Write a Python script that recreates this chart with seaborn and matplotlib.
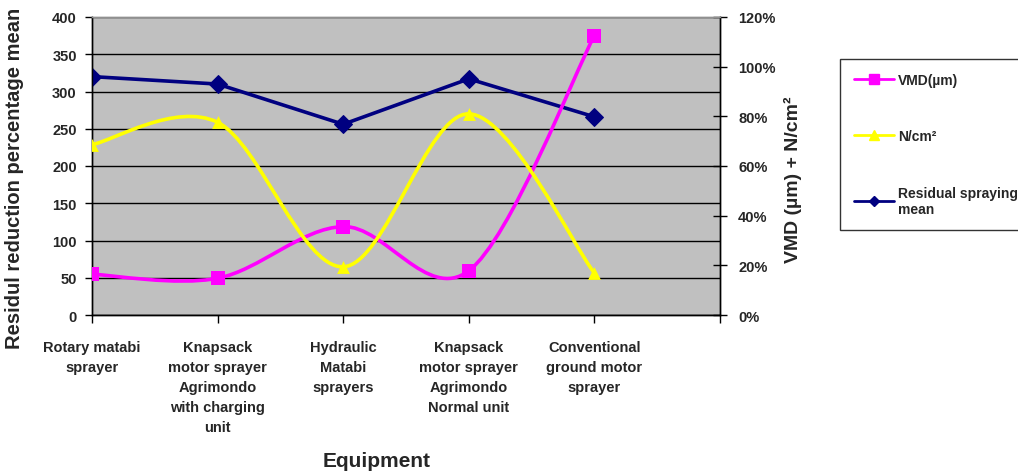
import matplotlib
matplotlib.use("Agg")
import matplotlib.pyplot as plt
import seaborn as sns
import numpy as np
import pandas as pd
from matplotlib.path import Path
from matplotlib.patches import PathPatch
from matplotlib.lines import Line2D
from matplotlib.ticker import FuncFormatter, MultipleLocator

categories = [
    "Rotary matabi\nsprayer",
    "Knapsack\nmotor sprayer\nAgrimondo\nwith charging\nunit",
    "Hydraulic\nMatabi\nsprayers",
    "Knapsack\nmotor sprayer\nAgrimondo\nNormal unit",
    "Conventional\nground motor\nsprayer",
]
residual_mean = [320, 310, 256, 317, 266]          # left axis
vmd = [0.164, 0.148, 0.356, 0.178, 1.125]          # right axis (fraction)
n_cm2 = [0.686, 0.776, 0.194, 0.81, 0.169]         # right axis (fraction)

sns.set_style("white")
plt.rcParams['font.family'] = ['Liberation Sans', 'DejaVu Sans']

W, H = 1018, 477
fig = plt.figure(figsize=(W / 100, H / 100), dpi=100)
L, R, T, B = 92, 720, 18, 316
ax = fig.add_axes([L / W, 1 - B / H, (R - L) / W, (B - T) / H])
ax2 = ax.twinx()

ax.set_facecolor("#C0C0C0")
ax.set_zorder(1)
ax2.set_zorder(2)
ax2.patch.set_visible(False)

x = np.arange(len(categories))
df = pd.DataFrame({"x": x, "res": residual_mean, "vmd": vmd, "n": n_cm2})

# grid
ax.set_ylim(0, 400)
ax.yaxis.set_major_locator(MultipleLocator(50))
ax.grid(axis="y", color="black", linewidth=1.0)
ax.set_axisbelow(True)
ax.set_xlim(0, 5)
ax.set_xticks(np.arange(0, 6))
ax.set_xticklabels(categories + [""])

# residual line (straight)
sns.lineplot(data=df, x="x", y="res", ax=ax, color="#000080", linewidth=2.6,
             marker="D", markersize=9, markeredgecolor="#000080", zorder=3)


def smooth_path(xs, ys):
    pts = np.column_stack([xs, ys]).astype(float)
    n = len(pts)
    verts = [pts[0]]
    codes = [Path.MOVETO]
    for i in range(n - 1):
        p0 = pts[i - 1] if i > 0 else pts[i]
        p1 = pts[i]
        p2 = pts[i + 1]
        p3 = pts[i + 2] if i + 2 < n else pts[i + 1]
        c1 = p1 + (p2 - p0) / 6.0
        c2 = p2 - (p3 - p1) / 6.0
        verts += [c1, c2, p2]
        codes += [Path.CURVE4] * 3
    return Path(verts, codes)


ax2.set_ylim(0, 1.2)
ax2.yaxis.set_major_locator(MultipleLocator(0.2))
ax2.yaxis.set_major_formatter(FuncFormatter(lambda v, p: f"{v*100:.0f}%"))

ax2.add_patch(PathPatch(smooth_path(x, vmd), fill=False, edgecolor="#FF00FF",
                        linewidth=2.6, zorder=3))
sns.scatterplot(data=df, x="x", y="vmd", ax=ax2, color="#FF00FF", marker="s",
                s=95, edgecolor="#FF00FF", linewidth=0, zorder=4)
ax2.add_patch(PathPatch(smooth_path(x, n_cm2), fill=False, edgecolor="#FFFF00",
                        linewidth=2.6, zorder=3))
sns.scatterplot(data=df, x="x", y="n", ax=ax2, color="#FFFF00", marker="^",
                s=85, edgecolor="#FFFF00", linewidth=0, zorder=4)
ax2.set_xlim(0, 5)

# spines
for a in (ax, ax2):
    for s in ("left", "right", "bottom"):
        a.spines[s].set_color("black")
        a.spines[s].set_linewidth(1.0)
    a.spines["top"].set_color("#909090")
    a.spines["top"].set_linewidth(1.0)

ax.set_xlabel("")
ax.set_ylabel("")
ax2.set_xlabel("")
ax2.set_ylabel("")

ax.tick_params(axis="y", direction="out", length=5, width=1, color="black",
               labelsize=10.5, pad=6, left=True)
ax.tick_params(axis="x", direction="out", length=6, width=1, color="black",
               pad=12, bottom=True)
ax2.tick_params(axis="y", direction="inout", length=10, width=1, color="black",
                labelsize=10.5, pad=8, right=True)
for lab in ax.get_yticklabels() + ax2.get_yticklabels():
    lab.set_fontweight("bold")
for lab in ax.get_xticklabels():
    lab.set_fontweight("bold")
    lab.set_fontsize(10.5)
    lab.set_linespacing(1.55)
    lab.set_verticalalignment("top")

fig.text(15 / W, 1 - 178 / H, "Residul reduction percentage mean", rotation=90,
         ha="center", va="center", fontsize=14.5, fontweight="bold")
fig.text(793 / W, 1 - 180 / H, "VMD (µm) + N/cm²", rotation=90,
         ha="center", va="center", fontsize=14, fontweight="bold")
fig.text(377 / W, 1 - 462 / H, "Equipment", ha="center", va="center",
         fontsize=15, fontweight="bold")

handles = [
    Line2D([], [], color="#FF00FF", linewidth=2, marker="s", markersize=7),
    Line2D([], [], color="#FFFF00", linewidth=2, marker="^", markersize=7),
    Line2D([], [], color="#000080", linewidth=2, marker="D", markersize=5),
]
labels = ["VMD(µm)", "N/cm²", "Residual spraying\nmean"]
leg = fig.legend(handles, labels, loc="upper left",
                 bbox_to_anchor=(840 / W, 1 - 60 / H, 200 / W, 0.0),
                 mode="expand", frameon=True, fancybox=False, borderpad=1.0,
                 borderaxespad=0.0,
                 labelspacing=3.05, handlelength=2.9, handletextpad=0.3,
                 prop={"weight": "bold", "size": 10})
leg.get_frame().set_edgecolor("black")
leg.get_frame().set_linewidth(1.0)

fig.savefig("out.png", dpi=100, facecolor="white")
